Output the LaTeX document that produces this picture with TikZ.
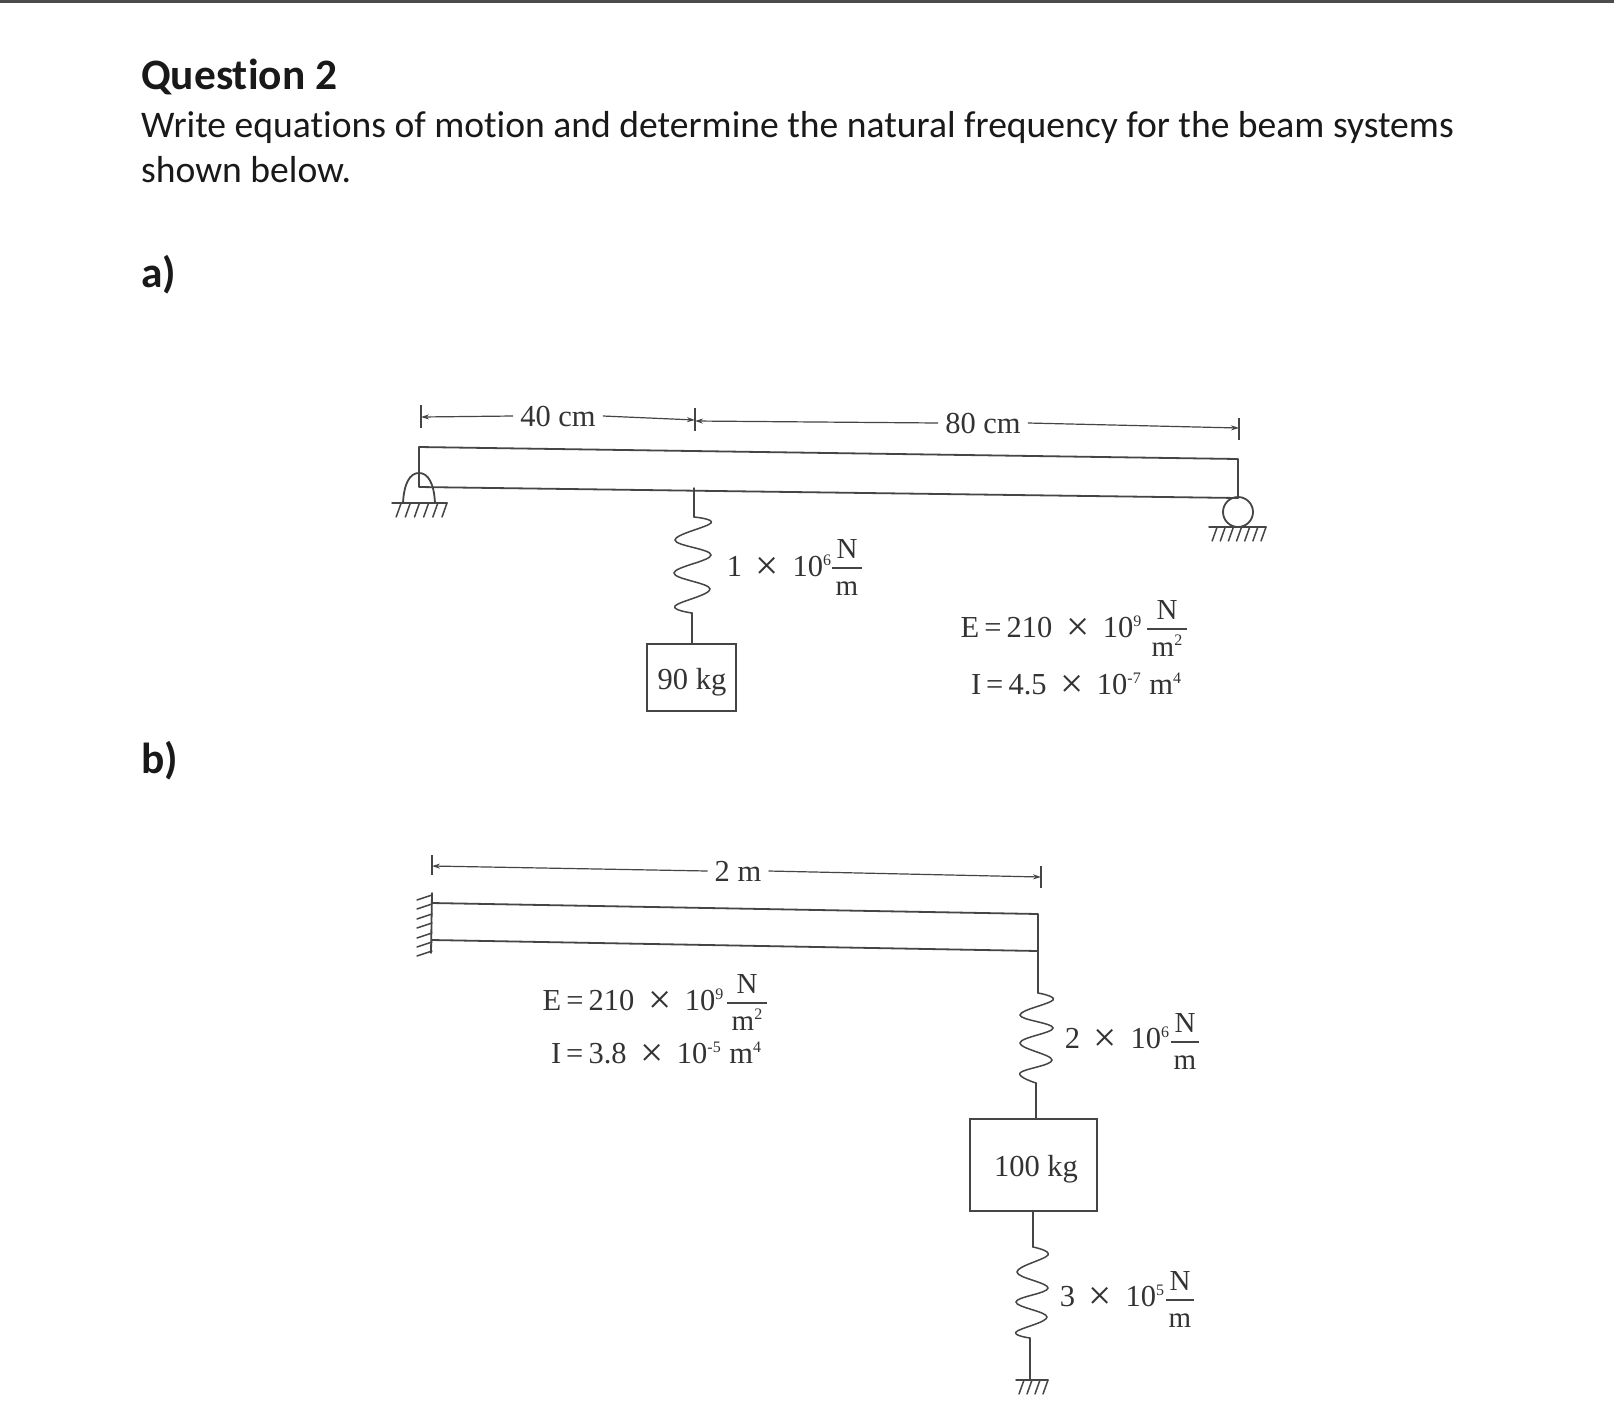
\documentclass[tikz,border=0pt]{standalone}
\usepackage{fontspec}
\setmainfont{Liberation Serif}
\newfontfamily\calib[Ligatures=NoCommon]{Carlito}
\usetikzlibrary{arrows.meta}
\definecolor{ink}{gray}{0.27}
\definecolor{txt}{gray}{0.2}
\newcommand{\spr}[1]{\raisebox{0.36em}{\fontsize{16}{16}\selectfont #1}}
\newcommand{\tms}{\;\,\raisebox{-0.13em}{\scalebox{1.35}{×}}\;\,}
\tikzset{
  beam/.style={draw=ink,line width=1.8pt,line cap=round,line join=round},
  thin line/.style={draw=ink,line width=1.5pt,line cap=round},
  dimline/.style={draw=ink,line width=1.2pt},
  dimtip/.style={-{Stealth[length=8pt,width=5pt]}},
  lab/.style={text=txt,inner sep=0pt,anchor=base,font=\fontsize{30.5}{32}\selectfont},
  fraclab/.style={text=txt,inner sep=0pt,anchor=base,font=\fontsize{29}{30}\selectfont},
  head/.style={text=black!90,inner sep=0pt,anchor=base west,font=\calib\fontsize{37.6}{40}\selectfont},
  bighead/.style={head,font=\calib\bfseries\fontsize{43.4}{46}\selectfont},
  massbox/.style={draw=ink,line width=1.8pt,inner sep=0pt},
  gap/.style={inner sep=7pt,text height=20pt,text depth=0pt},
}
% \frc{name}{x}{y of bar}{half width}{top}{bottom}
\newcommand{\frc}[6]{%
  \node[fraclab] (#1t) at (#2,#3-10) {#5};
  \node[fraclab] (#1b) at (#2,#3+27) {#6};
  \coordinate (#1l) at (#2-#4,#3);
  \coordinate (#1r) at (#2+#4,#3);
  \draw[dimline] (#1l) -- (#1r);
}
% \hatch{x0}{x1}{y}{count}{depth}
\newcommand{\hatch}[5]{%
  \draw[thin line] (#1,#3) -- (#2,#3);
  \foreach \i in {1,...,#4}{
    \pgfmathsetmacro{\hx}{#1+(#2-#1)*\i/#4}
    \draw[thin line] (\hx,#3) -- (\hx-5,#3+#5);
  }
}
\begin{document}
\begin{tikzpicture}[x=1pt,y=-1pt]
\useasboundingbox (0,0) rectangle (1614,1406);
\fill[white] (0,0) rectangle (1614,1406);
\fill[black!70] (0,0) rectangle (1614,2.5);

% heading
\node[bighead] (q) at (141,89.5) {Question 2};
\node[head] (l1) at (141,137) {Write equations of motion and determine the natural frequency for the beam systems};
\node[head] (l2) at (141,182) {shown below.};
\node[bighead] (pa) at (141,287) {a)};
\node[bighead] (pb) at (141,773) {b)};

% ---------- system a ----------
\coordinate (aTL) at (419,447);
\coordinate (aTR) at (1238,459);
\coordinate (aBR) at (1238,498);
\coordinate (aBL) at (419,487);
\draw[beam] (aBL) -- (aTL) -- (aTR) -- (aBR) -- (aBL);
% pin
\coordinate (pinL) at (403,503);
\coordinate (pinR) at (435,503);
\coordinate (pinT) at (419,473);
\draw[beam] (pinL) .. controls (404,483) and (410,473) .. (pinT) .. controls (428,473) and (434,483) .. (pinR);
\hatch{392}{447}{503}{6}{14}
% roller
\node[circle,draw=ink,line width=1.8pt,minimum size=30pt,inner sep=0pt] (roll) at (1238,512) {};
\hatch{1209}{1266}{527}{7}{14}
% dimensions
\coordinate (t1a) at (421,405); \coordinate (t1b) at (421,428);
\coordinate (t2a) at (695,408); \coordinate (t2b) at (695,431);
\coordinate (t3a) at (1239,418); \coordinate (t3b) at (1239,440);
\draw[dimline] (t1a) -- (t1b);
\draw[dimline] (t2a) -- (t2b);
\draw[dimline] (t3a) -- (t3b);
\node[lab,gap] (d40) at (558,426) {40 cm};
\node[lab,gap] (d80) at (983,433) {80 cm};
\coordinate (e1) at (421,417); \coordinate (e2) at (695,420); \coordinate (e3) at (695,421); \coordinate (e4) at (1239,428);
\draw[dimline,dimtip] (d40.west) -- (e1);
\draw[dimline,dimtip] (d40.east) -- (e2);
\draw[dimline,dimtip] (d80.west) -- (e3);
\draw[dimline,dimtip] (d80.east) -- (e4);
% spring + mass
\coordinate (s1a) at (694,488);
\coordinate (s1b) at (694,517);
\coordinate (s1c) at (692,613);
\draw[thin line] (s1a) -- (s1b);
\draw[thin line] plot[smooth,tension=0.65] coordinates {(s1b) (711,523) (675,540) (711,555) (674,573) (710,589) (675,606) (s1c)};
\node[massbox,minimum width=89pt,minimum height=67pt] (m90) at (691.5,677.5) {};
\node[lab] (m90t) at (692,689) {90 kg};
\draw[beam] (s1c) -- (m90t |- m90.north);
\node[lab] (k1) at (779,576) {1\tms 10\spr{6}};
\frc{kf1}{847}{568}{15}{N}{m}
\node[lab] (Ea) at (1051,637) {E\,=\,210\tms 10\spr{9}};
\frc{Ef}{1167}{629}{20}{N}{m\spr{2}}
\node[lab] (Ia) at (1076,694) {I\,=\,4.5\tms 10\spr{-7}\;m\spr{4}};

% ---------- system b ----------
\coordinate (bTL) at (432,903);
\coordinate (bTR) at (1038,914);
\coordinate (bBR) at (1038,951);
\coordinate (bBL) at (432,940);
\draw[beam] (bTL) -- (bTR) -- (bBR) -- (bBL);
\coordinate (wT) at (432,893);
\coordinate (wB) at (431,953);
\draw[beam] (wT) -- (wB);
\foreach \yy in {895,904,914,923,933,942,951}{
  \draw[thin line] (432,\yy) -- (417,\yy+5);
}
\coordinate (t4a) at (432,855); \coordinate (t4b) at (432,875);
\coordinate (t5a) at (1041,866); \coordinate (t5b) at (1041,888);
\draw[dimline] (t4a) -- (t4b);
\draw[dimline] (t5a) -- (t5b);
\node[lab,gap] (d2) at (738,881) {2 m};
\coordinate (e5) at (432,866); \coordinate (e6) at (1041,877);
\draw[dimline,dimtip] (d2.west) -- (e5);
\draw[dimline,dimtip] (d2.east) -- (e6);
\node[lab] (Eb) at (633,1010) {E\,=\,210\tms 10\spr{9}};
\frc{Eg}{747}{1003}{20}{N}{m\spr{2}}
\node[lab] (Ib) at (656,1063) {I\,=\,3.8\tms 10\spr{-5}\;m\spr{4}};
% upper spring
\coordinate (s2b) at (1038,993);
\coordinate (s2c) at (1036,1083);
\draw[thin line] (bBR) -- (s2b);
\draw[thin line] plot[smooth,tension=0.65] coordinates {(s2b) (1053,1000) (1020,1015) (1053,1028) (1020,1043) (1052,1060) (1020,1073) (s2c)};
\node[massbox,minimum width=127pt,minimum height=92pt] (m100) at (1033.5,1165) {};
\node[lab] (m100t) at (1036,1176) {100 kg};
\draw[beam] (s2c) -- (m100t |- m100.north);
\node[lab] (k2) at (1117,1048) {2\tms 10\spr{6}};
\frc{kf2}{1185}{1042}{14}{N}{m}
% lower spring
\coordinate (s3a) at (1033,1211);
\coordinate (s3b) at (1033,1247);
\coordinate (s3c) at (1030,1338);
\coordinate (s3d) at (1030,1380);
\draw[thin line] (s3a) -- (s3b);
\draw[thin line] plot[smooth,tension=0.65] coordinates {(s3b) (1048,1255) (1017,1272) (1048,1288) (1016,1302) (1047,1317) (1016,1332) (s3c)};
\draw[thin line] (s3c) -- (s3d);
\hatch{1016}{1048}{1380}{4}{14}
\node[lab] (k3) at (1112,1306) {3\tms 10\spr{5}};
\frc{kf3}{1180}{1300}{14}{N}{m}
\end{tikzpicture}
\end{document}
